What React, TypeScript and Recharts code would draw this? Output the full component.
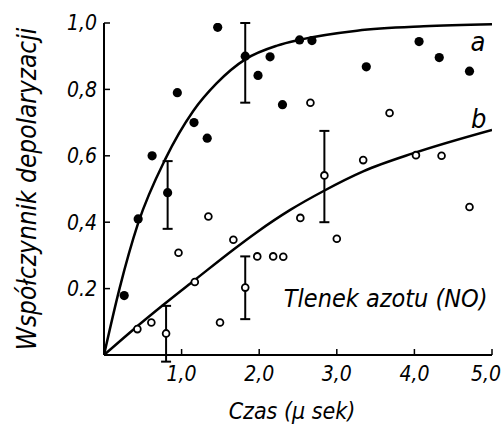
import {
  ComposedChart,
  Line,
  Scatter,
  ErrorBar,
  XAxis,
  YAxis,
  ReferenceDot,
  Label,
} from "recharts";

// smooth fitted curves
const curveA = [
  { x: 0, y: 0 },
  { x: 0.2, y: 0.2 },
  { x: 0.44, y: 0.397 },
  { x: 0.79, y: 0.59 },
  { x: 1.15, y: 0.735 },
  { x: 1.45, y: 0.818 },
  { x: 1.83, y: 0.892 },
  { x: 2.23, y: 0.932 },
  { x: 2.53, y: 0.95 },
  { x: 3.26, y: 0.977 },
  { x: 4.12, y: 0.99 },
  { x: 5.0, y: 0.996 },
];

const curveB = [
  { x: 0, y: 0 },
  { x: 0.38, y: 0.077 },
  { x: 0.77, y: 0.152 },
  { x: 1.17, y: 0.226 },
  { x: 1.67, y: 0.318 },
  { x: 1.97, y: 0.37 },
  { x: 2.4, y: 0.437 },
  { x: 2.83, y: 0.494 },
  { x: 3.34, y: 0.553 },
  { x: 3.99, y: 0.608 },
  { x: 5.0, y: 0.678 },
];

// measured points; err = [below, above]
const pointsA = [
  { x: 0.26, y: 0.179 },
  { x: 0.44, y: 0.41 },
  { x: 0.62, y: 0.6 },
  { x: 0.82, y: 0.489, err: [0.109, 0.095] },
  { x: 0.945, y: 0.79 },
  { x: 1.16, y: 0.7 },
  { x: 1.33, y: 0.653 },
  { x: 1.465, y: 0.987 },
  { x: 1.82, y: 0.9, err: [0.14, 0.1] },
  { x: 1.985, y: 0.842 },
  { x: 2.14, y: 0.898 },
  { x: 2.3, y: 0.754 },
  { x: 2.52, y: 0.949 },
  { x: 2.68, y: 0.947 },
  { x: 3.38, y: 0.868 },
  { x: 4.06, y: 0.944 },
  { x: 4.32, y: 0.896 },
  { x: 4.71, y: 0.855 },
];

const pointsB = [
  { x: 0.43, y: 0.078 },
  { x: 0.61, y: 0.098 },
  { x: 0.8, y: 0.065, err: [0.085, 0.083] },
  { x: 0.96, y: 0.308 },
  { x: 1.17, y: 0.22 },
  { x: 1.345, y: 0.417 },
  { x: 1.495, y: 0.098 },
  { x: 1.667, y: 0.347 },
  { x: 1.82, y: 0.203, err: [0.095, 0.094] },
  { x: 1.975, y: 0.297 },
  { x: 2.18, y: 0.297 },
  { x: 2.31, y: 0.296 },
  { x: 2.53, y: 0.413 },
  { x: 2.66, y: 0.76 },
  { x: 2.84, y: 0.541, err: [0.141, 0.134] },
  { x: 3.0, y: 0.35 },
  { x: 3.34, y: 0.587 },
  { x: 3.68, y: 0.729 },
  { x: 4.02, y: 0.602 },
  { x: 4.35, y: 0.6 },
  { x: 4.71, y: 0.446 },
];

const xTicks = [1, 2, 3, 4, 5];
const xTickLabels = ["1,0", "2,0", "3,0", "4,0", "5,0"];
const yTicks = [0.2, 0.4, 0.6, 0.8, 1.0];
const yTickLabels = ["0.2", "0,4", "0,6", "0,8", "1,0"];

const FONT = "'DejaVu Sans Condensed', 'Liberation Sans Narrow', 'DejaVu Sans', sans-serif";

const filledDot = (p: any) => <circle cx={p.cx} cy={p.cy} r={4.6} fill="#000" />;
const openDot = (p: any) => (
  <circle cx={p.cx} cy={p.cy} r={3.4} fill="#fff" stroke="#000" strokeWidth={1.8} />
);

const XTick = ({ x, y, payload }: any) => {
  const i = xTicks.indexOf(payload.value);
  // last label sits against the right edge of the page
  const shift = i === xTicks.length - 1 ? -6 : 0;
  return (
    <text x={x + shift} y={y} dy="0.71em" textAnchor="middle" fontSize={21} fill="#000">
      {xTickLabels[i]}
    </text>
  );
};

export default function App() {
  return (
    <div
      style={{
        position: "absolute",
        left: 0,
        top: 0,
        width: 502,
        height: 431,
        background: "#fff",
        fontFamily: FONT,
        fontStyle: "italic",
      }}
    >
      <ComposedChart width={502} height={431} margin={{ top: 23, right: 10, bottom: 0, left: 0 }}>
        <XAxis
          xAxisId="b"
          type="number"
          dataKey="x"
          domain={[0, 5]}
          ticks={xTicks}
          height={76}
          tickSize={-6}
          tickMargin={17}
          axisLine={{ stroke: "#000", strokeWidth: 2 }}
          tickLine={{ stroke: "#000", strokeWidth: 1.5 }}
          tick={<XTick />}
          allowDataOverflow
        >
          <Label
            content={({ viewBox }: any) => (
              <text
                x={viewBox.x + viewBox.width / 2 - 6}
                y={viewBox.y + 64}
                textAnchor="middle"
                fontSize={23}
                fill="#000"
              >
                Czas (μ sek)
              </text>
            )}
          />
        </XAxis>
        <XAxis
          xAxisId="t"
          orientation="top"
          type="number"
          domain={[0, 5]}
          height={0}
          tick={false}
          tickLine={false}
          axisLine={{ stroke: "#000", strokeWidth: 2 }}
        />
        <YAxis
          yAxisId="l"
          type="number"
          domain={[0, 1]}
          ticks={yTicks}
          tickFormatter={(v: number) => yTickLabels[yTicks.indexOf(v)]}
          width={104}
          tickSize={-6}
          tickMargin={13}
          axisLine={{ stroke: "#000", strokeWidth: 2 }}
          tickLine={{ stroke: "#000", strokeWidth: 1.5 }}
          tick={{ fontSize: 21, fill: "#000" }}
          allowDataOverflow
        >
          <Label
            content={({ viewBox }: any) => {
              const cx = 27;
              const cy = viewBox.y + viewBox.height / 2;
              return (
                <text
                  x={cx}
                  y={cy}
                  textAnchor="middle"
                  dominantBaseline="central"
                  fontSize={26}
                  fill="#000"
                  transform={`rotate(-90, ${cx}, ${cy})`}
                >
                  Współczynnik depolaryzacji
                </text>
              );
            }}
          />
        </YAxis>
        <YAxis
          yAxisId="r"
          orientation="right"
          type="number"
          domain={[0, 1]}
          width={0}
          tick={false}
          tickLine={false}
          axisLine={{ stroke: "#000", strokeWidth: 2 }}
        />

        <Line
          xAxisId="b"
          yAxisId="l"
          data={curveA}
          dataKey="y"
          type="monotone"
          stroke="#000"
          strokeWidth={2.5}
          dot={false}
          isAnimationActive={false}
        />
        <Line
          xAxisId="b"
          yAxisId="l"
          data={curveB}
          dataKey="y"
          type="monotone"
          stroke="#000"
          strokeWidth={2.5}
          dot={false}
          isAnimationActive={false}
        />
        <Scatter
          xAxisId="b"
          yAxisId="l"
          data={pointsA}
          dataKey="y"
          shape={filledDot}
          isAnimationActive={false}
        >
          <ErrorBar dataKey="err" direction="y" width={5} stroke="#000" strokeWidth={2} />
        </Scatter>
        <Scatter
          xAxisId="b"
          yAxisId="l"
          data={pointsB}
          dataKey="y"
          shape={openDot}
          isAnimationActive={false}
        >
          <ErrorBar dataKey="err" direction="y" width={5} stroke="#000" strokeWidth={2} />
        </Scatter>

        <ReferenceDot xAxisId="b" yAxisId="l" x={4.82} y={0.945} r={0} fill="none" stroke="none"
          label={{ value: "a", position: "center", fontSize: 27, fill: "#000" }} />
        <ReferenceDot xAxisId="b" yAxisId="l" x={4.83} y={0.714} r={0} fill="none" stroke="none"
          label={{ value: "b", position: "center", fontSize: 27, fill: "#000" }} />
        <ReferenceDot xAxisId="b" yAxisId="l" x={3.63} y={0.172} r={0} fill="none" stroke="none"
          label={{ value: "Tlenek azotu (NO)", position: "center", fontSize: 25, fill: "#000" }} />
      </ComposedChart>
    </div>
  );
}
